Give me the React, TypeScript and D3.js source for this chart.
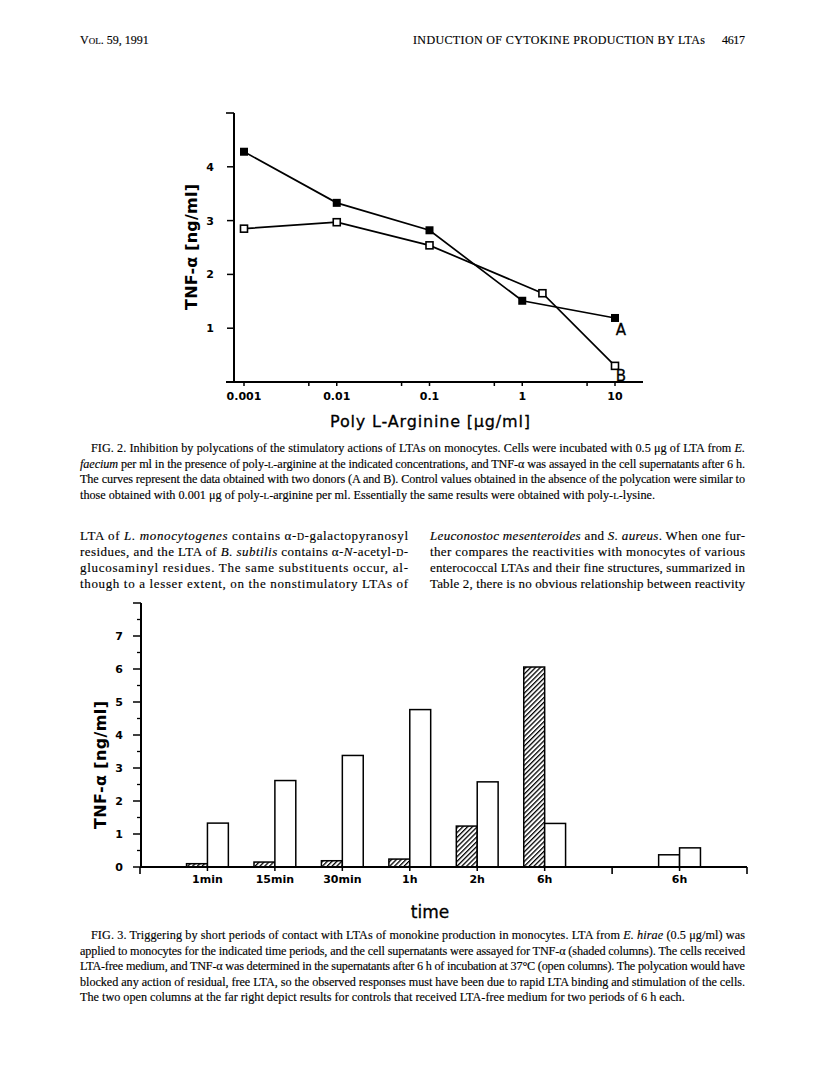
import React from "react";
import * as d3 from "d3";

const W = 816;
const H = 1077;

// Fig. 2: TNF-alpha vs poly L-arginine, two donors
const argConc = [0.001, 0.01, 0.1, 1, 10];
const donorA = [4.28, 3.33, 2.82, 1.51, 1.19];
const donorBConc = [0.001, 0.01, 0.1, 1.65, 10];
const donorB = [2.85, 2.97, 2.54, 1.65, 0.3];
const argTicks = [0.001, 0.01, 0.1, 1, 10];
const argTickLabels = ["0.001", "0.01", "0.1", "1", "10"];
const argMinorTicks = [0.005, 0.05, 0.5, 5];
const tnfTicksFig2 = [1, 2, 3, 4];

// Fig. 3: pulse (shaded) and chase (open) columns
const periods = ["1min", "15min", "30min", "1h", "2h", "6h"];
const pulseTnf = [0.1, 0.15, 0.19, 0.24, 1.24, 6.06];
const chaseTnf = [1.33, 2.62, 3.38, 4.77, 2.58, 1.32];
const controlLabel = "6h";
const controlTnf = [0.37, 0.58];
const tnfTicksFig3 = [0, 1, 2, 3, 4, 5, 6, 7];
const tnfMinorFig3 = [0.5, 1.5, 2.5, 3.5, 4.5, 5.5, 6.5, 7.5];

// page text (_x_ = italic, {x} = small caps)
const fig2Caption = [
  "FIG. 2. Inhibition by polycations of the stimulatory actions of LTAs on monocytes. Cells were incubated with 0.5 μg of LTA from _E._",
  "_faecium_ per ml in the presence of poly-{L}-arginine at the indicated concentrations, and TNF-α was assayed in the cell supernatants after 6 h.",
  "The curves represent the data obtained with two donors (A and B). Control values obtained in the absence of the polycation were similar to",
  "those obtained with 0.001 μg of poly-{L}-arginine per ml. Essentially the same results were obtained with poly-{L}-lysine.",
];
const bodyLeft = [
  "LTA of _L. monocytogenes_ contains α-{D}-galactopyranosyl",
  "residues, and the LTA of _B. subtilis_ contains α-_N_-acetyl-{D}-",
  "glucosaminyl residues. The same substituents occur, al-",
  "though to a lesser extent, on the nonstimulatory LTAs of",
];
const bodyRight = [
  "_Leuconostoc mesenteroides_ and _S. aureus_. When one fur-",
  "ther compares the reactivities with monocytes of various",
  "enterococcal LTAs and their fine structures, summarized in",
  "Table 2, there is no obvious relationship between reactivity",
];
const fig3Caption = [
  "FIG. 3. Triggering by short periods of contact with LTAs of monokine production in monocytes. LTA from _E. hirae_ (0.5 μg/ml) was",
  "applied to monocytes for the indicated time periods, and the cell supernatants were assayed for TNF-α (shaded columns). The cells received",
  "LTA-free medium, and TNF-α was determined in the supernatants after 6 h of incubation at 37°C (open columns). The polycation would have",
  "blocked any action of residual, free LTA, so the observed responses must have been due to rapid LTA binding and stimulation of the cells.",
  "The two open columns at the far right depict results for controls that received LTA-free medium for two periods of 6 h each.",
];

const serif = "Liberation Serif, Times New Roman, serif";
const plotFont = "DejaVu Sans, Verdana, sans-serif";

function rich(s: string, fs: number) {
  const parts = s.split(/(_[^_]+_|\{[^}]+\})/).filter(Boolean);
  return parts.map((p, i) => {
    if (p.startsWith("_")) return <tspan key={i} fontStyle="italic">{p.slice(1, -1)}</tspan>;
    if (p.startsWith("{")) return <tspan key={i} fontSize={fs * 0.75}>{p.slice(1, -1)}</tspan>;
    return <tspan key={i}>{p}</tspan>;
  });
}

const Para = ({ lines, x, w, y, lh, fs, indent = 0, justifyLast = false }: any) => (
  <g fontFamily={serif} fontSize={fs} fill="#000" stroke="#000" strokeWidth={0.15}>
    {lines.map((ln: string, i: number) => {
      const last = i === lines.length - 1 && !justifyLast;
      const dx = i === 0 ? indent : 0;
      return (
        <text key={i} x={x + dx} y={y + i * lh} textLength={last ? undefined : w - dx} lengthAdjust="spacing">
          {rich(ln, fs)}
        </text>
      );
    })}
  </g>
);

const Fig2 = () => {
  const x = d3.scaleLog().domain([0.001, 10]).range([244, 615]);
  const y = d3.scaleLinear().domain([0, 5]).range([382, 113]);
  const line = d3.line<[number, number]>().x((d) => x(d[0])).y((d) => y(d[1]));
  const ptsA = argConc.map((c, i) => [c, donorA[i]] as [number, number]);
  const ptsB = donorBConc.map((c, i) => [c, donorB[i]] as [number, number]);
  const axX = 234;
  return (
    <g stroke="#000" fill="none">
      {/* axes */}
      <line x1={axX} x2={axX} y1={y(5)} y2={y(0)} strokeWidth={2} />
      <line x1={axX - 8} x2={axX} y1={y(5)} y2={y(5)} strokeWidth={1.6} />
      <line x1={226} x2={643} y1={y(0)} y2={y(0)} strokeWidth={2} />
      {tnfTicksFig2.map((t) => (
        <g key={t}>
          <line x1={axX - 7} x2={axX} y1={y(t)} y2={y(t)} strokeWidth={1.5} />
          <text x={214} y={y(t) + 4} textAnchor="end" fill="#000" stroke="none" fontFamily={plotFont} fontWeight="bold" fontSize={11}>
            {t}
          </text>
        </g>
      ))}
      {argTicks.map((t, i) => (
        <g key={t}>
          <line x1={x(t)} x2={x(t)} y1={y(0)} y2={y(0) + 4} strokeWidth={1.5} />
          <text x={x(t)} y={y(0) + 18} textAnchor="middle" fill="#000" stroke="none" fontFamily={plotFont} fontWeight="bold" fontSize={11}>
            {argTickLabels[i]}
          </text>
        </g>
      ))}
      {argMinorTicks.map((t) => (
        <line key={t} x1={x(t)} x2={x(t)} y1={y(0)} y2={y(0) + 4} strokeWidth={1.5} />
      ))}
      {/* titles */}
      <text x={430} y={427} textAnchor="middle" fill="#000" stroke="#000" strokeWidth={0.3} fontFamily={plotFont} fontSize={16} textLength={200} lengthAdjust="spacing">
        Poly L-Arginine [μg/ml]
      </text>
      <text transform="translate(197,247) rotate(-90)" textAnchor="middle" fill="#000" stroke="none" fontFamily={plotFont} fontWeight="bold" fontSize={16} textLength={126} lengthAdjust="spacing">
        TNF-α [ng/ml]
      </text>
      {/* series */}
      <path d={line(ptsA) || ""} strokeWidth={1.7} />
      <path d={line(ptsB) || ""} strokeWidth={1.7} />
      {ptsA.map((p, i) => (
        <rect key={i} x={x(p[0]) - 4} y={y(p[1]) - 4} width={8} height={8} fill="#000" stroke="none" />
      ))}
      {ptsB.map((p, i) => (
        <rect key={i} x={x(p[0]) - 3.5} y={y(p[1]) - 3.5} width={7} height={7} fill="#fff" strokeWidth={1.6} />
      ))}
      <text x={x(10) + 6} y={y(donorA[4]) + 17} textAnchor="middle" fill="#000" stroke="#000" strokeWidth={0.3} fontFamily={plotFont} fontSize={15}>
        A
      </text>
      <text x={x(10) + 6} y={y(donorB[4]) + 15} textAnchor="middle" fill="#000" stroke="#000" strokeWidth={0.3} fontFamily={plotFont} fontSize={15}>
        B
      </text>
    </g>
  );
};

const Fig3 = () => {
  const x = d3.scaleLinear().domain([0, 9]).range([140, 747]);
  const y = d3.scaleLinear().domain([0, 8]).range([867, 603]);
  const step = x(1) - x(0);
  const bw = step * 0.31;
  const slots = periods.map((_, i) => i + 1);
  const controlSlot = 8;
  const axX = 141;
  const bar = (cx: number, v: number, side: number, shaded: boolean, key: string) => (
    <rect
      key={key}
      x={side < 0 ? cx - bw : cx}
      y={y(v)}
      width={bw}
      height={y(0) - y(v)}
      fill={shaded ? "url(#hatch)" : "#fff"}
      strokeWidth={1.5}
    />
  );
  return (
    <g stroke="#000" fill="none">
      <defs>
        <pattern id="hatch" width={3.4} height={3.4} patternUnits="userSpaceOnUse" patternTransform="rotate(45)">
          <rect width={3.4} height={3.4} fill="#fff" stroke="none" />
          <line x1={0} y1={0} x2={0} y2={3.4} stroke="#000" strokeWidth={2.6} />
        </pattern>
      </defs>
      {slots.map((s, i) => (
        <g key={s}>
          {bar(x(s), pulseTnf[i], -1, true, "p" + i)}
          {bar(x(s), chaseTnf[i], 1, false, "c" + i)}
        </g>
      ))}
      {bar(x(controlSlot), controlTnf[0], -1, false, "k0")}
      {bar(x(controlSlot), controlTnf[1], 1, false, "k1")}
      {/* axes */}
      <line x1={axX} x2={axX} y1={y(8)} y2={y(0)} strokeWidth={2} />
      <line x1={x(0)} x2={x(9)} y1={y(0)} y2={y(0)} strokeWidth={2} />
      {[0, 7, 9].map((t) => (
        <line key={t} x1={x(t)} x2={x(t)} y1={y(0)} y2={y(0) + 7} strokeWidth={1.6} />
      ))}
      {[...slots, controlSlot].map((t) => (
        <line key={t} x1={x(t)} x2={x(t)} y1={y(0)} y2={y(0) + 4} strokeWidth={1.5} />
      ))}
      {[...tnfTicksFig3, 8].map((t) => (
        <line key={t} x1={axX - 8} x2={axX} y1={y(t)} y2={y(t)} strokeWidth={1.5} />
      ))}
      {tnfMinorFig3.map((t) => (
        <line key={t} x1={axX - 4} x2={axX} y1={y(t)} y2={y(t)} strokeWidth={1.3} />
      ))}
      <g fill="#000" stroke="none" fontFamily={plotFont} fontWeight="bold" fontSize={11}>
        {tnfTicksFig3.map((t) => (
          <text key={t} x={123} y={y(t) + 4} textAnchor="end">
            {t}
          </text>
        ))}
        {periods.map((p, i) => (
          <text key={p} x={x(slots[i])} y={883} textAnchor="middle">
            {p}
          </text>
        ))}
        <text x={x(controlSlot)} y={883} textAnchor="middle">
          {controlLabel}
        </text>
      </g>
      <text x={430} y={918} textAnchor="middle" fill="#000" stroke="#000" strokeWidth={0.3} fontFamily={plotFont} fontSize={17}>
        time
      </text>
      <text transform="translate(106,765) rotate(-90)" textAnchor="middle" fill="#000" stroke="none" fontFamily={plotFont} fontWeight="bold" fontSize={16} textLength={128} lengthAdjust="spacing">
        TNF-α [ng/ml]
      </text>
    </g>
  );
};

export default function App() {
  return (
    <div style={{ position: "absolute", left: 0, top: 0 }}>
      <svg width={W} height={H} viewBox={`0 0 ${W} ${H}`} style={{ display: "block", background: "#fff" }}>
        {/* running head */}
        <g fontFamily={serif} fill="#000" stroke="#000" strokeWidth={0.15} fontSize={12}>
          <text x={80} y={44}>
            V<tspan fontSize={9}>OL</tspan>. 59, 1991
          </text>
          <text x={413} y={44} textLength={292} lengthAdjust="spacing">
            INDUCTION OF CYTOKINE PRODUCTION BY LTAs
          </text>
          <text x={722} y={44} textLength={23} lengthAdjust="spacing">
            4617
          </text>
        </g>
        <Fig2 />
        <Para lines={fig2Caption} x={80} w={665} y={452} lh={15.6} fs={12.2} indent={11} />
        <Para lines={bodyLeft} x={80} w={328} y={540} lh={16} fs={13} justifyLast />
        <Para lines={bodyRight} x={430} w={315} y={540} lh={16} fs={13} justifyLast />
        <Fig3 />
        <Para lines={fig3Caption} x={80} w={665} y={939} lh={15.6} fs={12.2} indent={11} />
      </svg>
    </div>
  );
}
